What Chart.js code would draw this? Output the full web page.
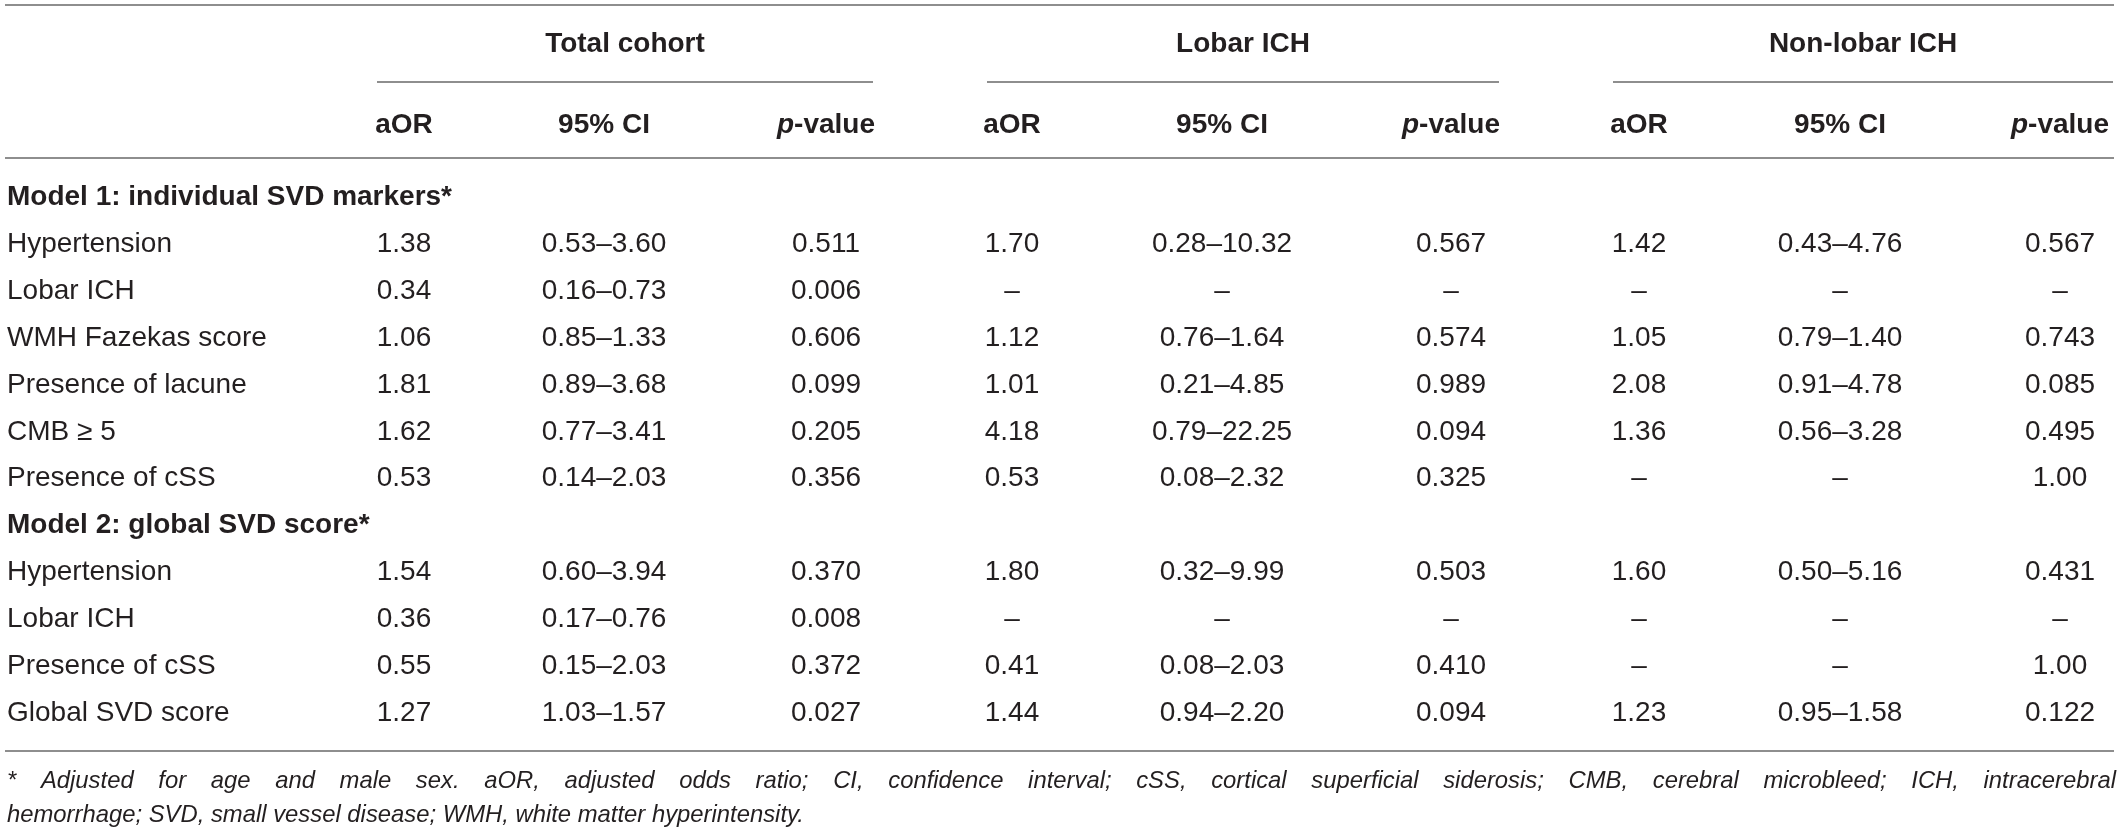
<!DOCTYPE html>
<html>
<head>
<meta charset="utf-8">
<script src="https://cdn.jsdelivr.net/npm/chart.js@4/dist/chart.umd.min.js"></script>
<style>
html,body{margin:0;padding:0;background:#ffffff;}
#wrap{width:2119px;height:836px;position:relative;}
</style>
</head>
<body>
<div id="wrap"><canvas id="c"></canvas></div>
<script>
// ---------------- DATA ----------------
const GROUPS = ['Total cohort', 'Lobar ICH', 'Non-lobar ICH'];
const COLUMN_HEADERS = ['aOR', '95% CI', 'p-value'];
const SECTIONS = ['Model 1: individual SVD markers*', 'Model 2: global SVD score*'];
const MODEL1_ROWS = ['Hypertension', 'Lobar ICH', 'WMH Fazekas score', 'Presence of lacune', 'CMB \u2265 5', 'Presence of cSS'];
const MODEL2_ROWS = ['Hypertension', 'Lobar ICH', 'Presence of cSS', 'Global SVD score'];

// values: Model 1 rows followed by Model 2 rows
const TOTAL_AOR = ['1.38', '0.34', '1.06', '1.81', '1.62', '0.53', '1.54', '0.36', '0.55', '1.27'];
const TOTAL_CI  = ['0.53\u20133.60', '0.16\u20130.73', '0.85\u20131.33', '0.89\u20133.68', '0.77\u20133.41', '0.14\u20132.03', '0.60\u20133.94', '0.17\u20130.76', '0.15\u20132.03', '1.03\u20131.57'];
const TOTAL_P   = ['0.511', '0.006', '0.606', '0.099', '0.205', '0.356', '0.370', '0.008', '0.372', '0.027'];

const LOBAR_AOR = ['1.70', '\u2013', '1.12', '1.01', '4.18', '0.53', '1.80', '\u2013', '0.41', '1.44'];
const LOBAR_CI  = ['0.28\u201310.32', '\u2013', '0.76\u20131.64', '0.21\u20134.85', '0.79\u201322.25', '0.08\u20132.32', '0.32\u20139.99', '\u2013', '0.08\u20132.03', '0.94\u20132.20'];
const LOBAR_P   = ['0.567', '\u2013', '0.574', '0.989', '0.094', '0.325', '0.503', '\u2013', '0.410', '0.094'];

const NONLOBAR_AOR = ['1.42', '\u2013', '1.05', '2.08', '1.36', '\u2013', '1.60', '\u2013', '\u2013', '1.23'];
const NONLOBAR_CI  = ['0.43\u20134.76', '\u2013', '0.79\u20131.40', '0.91\u20134.78', '0.56\u20133.28', '\u2013', '0.50\u20135.16', '\u2013', '\u2013', '0.95\u20131.58'];
const NONLOBAR_P   = ['0.567', '\u2013', '0.743', '0.085', '0.495', '1.00', '0.431', '\u2013', '1.00', '0.122'];

const FOOTNOTES = [
  '* Adjusted for age and male sex. aOR, adjusted odds ratio; CI, confidence interval; cSS, cortical superficial siderosis; CMB, cerebral microbleed; ICH, intracerebral',
  'hemorrhage; SVD, small vessel disease; WMH, white matter hyperintensity.'
];

// ---------------- LAYOUT (positions / styles) ----------------
const W = 2119, H = 836;
const ROW_PX0 = 195, ROW_STEP = 46.9;
const Y_MIN = -ROW_PX0 / ROW_STEP;
const Y_MAX = Y_MIN + H / ROW_STEP;
const pxToY = p => Y_MIN + p / ROW_STEP;

const LABEL_X = 7;
const COL_X = [404, 604, 826, 1012, 1222, 1451, 1639, 1840, 2060];
const GROUP_X = [625, 1243, 1863];
const GROUP_SPAN = [[377, 873], [987, 1499], [1613, 2113]];
const RULE_SPAN = [5, 2114];
const FOOT_RIGHT = [2116, 804];   // line 1 is justified to the full width

const Y_TOPRULE = pxToY(5), Y_GROUP = pxToY(42), Y_UNDER = pxToY(82),
      Y_COLHEAD = pxToY(123), Y_HEADRULE = pxToY(158), Y_BOTRULE = pxToY(751),
      Y_FOOT = [pxToY(779), pxToY(813)];

const FAMILY = '"Liberation Sans", Arial, Helvetica, sans-serif';
const TXT = '#231f20';
const RULE = '#8e8e8e';
const F_BODY = '28px ' + FAMILY;
const F_BOLD = 'bold 28px ' + FAMILY;

// row indices: section 0, model1 rows 1-6, section 7, model2 rows 8-11
const SECTION_ROWS = [0, 7];
const DATA_ROWS = [1, 2, 3, 4, 5, 6, 8, 9, 10, 11];
const ROW_NAMES = MODEL1_ROWS.concat(MODEL2_ROWS);
const VALUE_COLUMNS = [TOTAL_AOR, TOTAL_CI, TOTAL_P, LOBAR_AOR, LOBAR_CI, LOBAR_P, NONLOBAR_AOR, NONLOBAR_CI, NONLOBAR_P];

// ---------------- DATASETS ----------------
const datasets = [];
datasets.push({
  label: 'sections', font: F_BOLD, align: 'left',
  data: SECTIONS.map((t, i) => ({ x: LABEL_X, y: SECTION_ROWS[i], t }))
});
datasets.push({
  label: 'rowLabels', font: F_BODY, align: 'left',
  data: ROW_NAMES.map((t, i) => ({ x: LABEL_X, y: DATA_ROWS[i], t }))
});
VALUE_COLUMNS.forEach((col, c) => {
  datasets.push({
    label: 'col' + c, font: F_BODY, align: 'center',
    data: col.map((t, i) => ({ x: COL_X[c], y: DATA_ROWS[i], t }))
  });
});
datasets.push({
  label: 'groups', font: F_BOLD, align: 'center',
  data: GROUPS.map((t, i) => ({ x: GROUP_X[i], y: Y_GROUP, t }))
});
datasets.push({
  label: 'colHeaders', font: F_BOLD, align: 'center', header: true,
  data: COL_X.map((x, i) => ({ x, y: Y_COLHEAD, t: COLUMN_HEADERS[i % 3] }))
});
datasets.push({
  label: 'footnotes', footnote: true, align: 'left',
  data: FOOTNOTES.map((t, i) => ({ x: LABEL_X, y: Y_FOOT[i], t, right: FOOT_RIGHT[i], justify: i === 0 }))
});
datasets.forEach(d => { d.pointRadius = 0; d.pointHoverRadius = 0; d.showLine = false; });

// ---------------- PLUGIN: draws rules and cell text ----------------
const tablePlugin = {
  id: 'tablePlugin',
  afterDatasetsDraw(chart) {
    const ctx = chart.ctx;
    const xs = chart.scales.x, ys = chart.scales.y;
    ctx.save();
    // rules
    ctx.strokeStyle = RULE;
    ctx.lineWidth = 2;
    const hline = (x1, x2, yv) => {
      const y = Math.round(ys.getPixelForValue(yv));
      ctx.beginPath();
      ctx.moveTo(xs.getPixelForValue(x1), y);
      ctx.lineTo(xs.getPixelForValue(x2), y);
      ctx.stroke();
    };
    hline(RULE_SPAN[0], RULE_SPAN[1], Y_TOPRULE);
    GROUP_SPAN.forEach(s => hline(s[0], s[1], Y_UNDER));
    hline(RULE_SPAN[0], RULE_SPAN[1], Y_HEADRULE);
    hline(RULE_SPAN[0], RULE_SPAN[1], Y_BOTRULE);

    // footnote font size: fitted so the (unjustified) last line spans its measured width
    const fd = chart.data.datasets.find(d => d.footnote);
    const last = fd.data[fd.data.length - 1];
    ctx.font = 'italic 100px ' + FAMILY;
    const footSize = 100 * (last.right - last.x) / ctx.measureText(last.t).width;
    const F_FOOT = 'italic ' + footSize.toFixed(2) + 'px ' + FAMILY;

    // text
    ctx.fillStyle = TXT;
    ctx.textBaseline = 'alphabetic';
    chart.data.datasets.forEach((ds, di) => {
      const meta = chart.getDatasetMeta(di);
      const font = ds.footnote ? F_FOOT : ds.font;
      const size = parseFloat(font.match(/(\d+(\.\d+)?)px/)[1]);
      meta.data.forEach((pt, i) => {
        const raw = ds.data[i];
        const y = pt.y + size * 0.36;
        if (ds.header && raw.t.startsWith('p-')) {
          const rest = raw.t.slice(1);
          ctx.font = 'italic ' + font;
          const w1 = ctx.measureText('p').width;
          ctx.font = font;
          const w2 = ctx.measureText(rest).width;
          const x0 = pt.x - (w1 + w2) / 2;
          ctx.textAlign = 'left';
          ctx.font = 'italic ' + font;
          ctx.fillText('p', x0, y);
          ctx.font = font;
          ctx.fillText(rest, x0 + w1, y);
        } else if (ds.footnote && raw.justify) {
          ctx.font = font;
          ctx.textAlign = 'left';
          const words = raw.t.split(' ');
          const widths = words.map(w => ctx.measureText(w).width);
          const total = widths.reduce((a, b) => a + b, 0);
          const right = xs.getPixelForValue(raw.right);
          const gap = (right - pt.x - total) / (words.length - 1);
          let x = pt.x;
          words.forEach((w, k) => { ctx.fillText(w, x, y); x += widths[k] + gap; });
        } else {
          ctx.font = font;
          ctx.textAlign = ds.align;
          ctx.fillText(raw.t, pt.x, y);
        }
      });
    });
    ctx.restore();
  }
};

new Chart(document.getElementById('c'), {
  type: 'scatter',
  data: { datasets },
  options: {
    responsive: true,
    maintainAspectRatio: false,
    animation: false,
    events: [],
    layout: { padding: 0 },
    plugins: { legend: { display: false }, tooltip: { enabled: false } },
    scales: {
      x: { type: 'linear', min: 0, max: W, display: false },
      y: { type: 'linear', min: Y_MIN, max: Y_MAX, reverse: true, display: false }
    }
  },
  plugins: [tablePlugin]
});
</script>
</body>
</html>
